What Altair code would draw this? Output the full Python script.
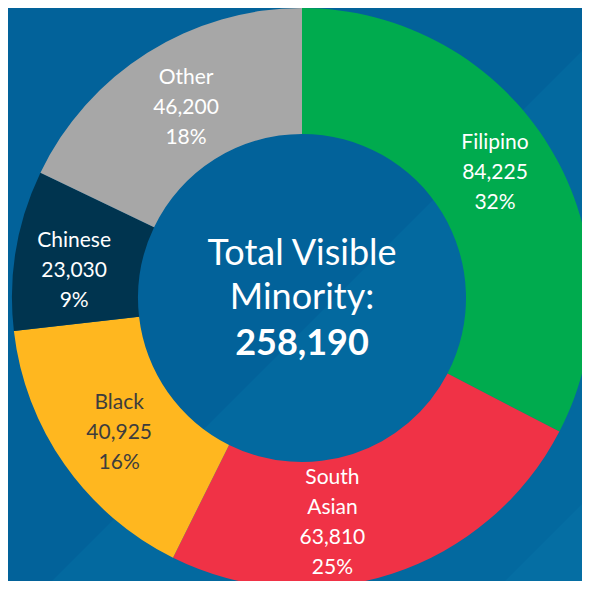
import altair as alt
import pandas as pd

groups = ["Filipino", "South Asian", "Black", "Chinese", "Other"]
label_names = ["Filipino", "South\nAsian", "Black", "Chinese", "Other"]
values = [84225, 63810, 40925, 23030, 46200]
pcts = ["32%", "25%", "16%", "9%", "18%"]
colors = ["#00ab4e", "#f03246", "#ffb71f", "#00344f", "#a7a7a7"]

total = sum(values)
df = pd.DataFrame({
    "group": groups,
    "value": values,
    "idx": list(range(len(groups))),
    "label": [f"{n}\n{v:,}\n{p}" for n, v, p in zip(label_names, values, pcts)],
})

W, H = 574, 573
CX, CY = 294, 290
FONT = "Lato"
BG = "#02629a"

# subtle diagonal background bands (decoration): wide rules along x+y = const
one = pd.DataFrame({"k": [0]})


def band(c, color, width=600):
    off = c + width / 2 * 1.4142
    return alt.Chart(one).mark_rule(strokeWidth=width, color=color, strokeCap="butt").encode(
        x=alt.value(-800), y=alt.value(off + 800),
        x2=alt.value(off + 800), y2=alt.value(-800),
    )


bands = [band(617, "#03699f"), band(1070, "#056ea3")]

base = alt.Chart(df).encode(
    theta=alt.Theta("value:Q", stack=True),
    order=alt.Order("idx:Q"),
)

arcs = base.mark_arc(outerRadius=290, innerRadius=164, stroke=None).encode(
    x=alt.value(CX), y=alt.value(CY),
    color=alt.Color("group:N", scale=alt.Scale(domain=groups, range=colors), legend=None),
)

# per-label nudges (pixels)
nudges = {
    "Filipino": (-1, -37),
    "South Asian": (-40, -36),
    "Black": (3, -25),
    "Chinese": (-4, -19),
    "Other": (5, -28),
}

label_layers = []
for g, (ddx, ddy) in nudges.items():
    label_layers.append(
        base.mark_text(
            radius=227, font=FONT, fontSize=21, lineBreak="\n", lineHeight=30,
            align="center", baseline="middle", dx=ddx, dy=ddy,
            color="#3d3d3d" if g == "Black" else "white",
        ).encode(
            x=alt.value(CX), y=alt.value(CY),
            text="label:N",
            opacity=alt.condition(alt.datum.group == g, alt.value(1), alt.value(0)),
        )
    )

center_df = pd.DataFrame({"t": ["Total Visible\nMinority:"], "n": [f"{total:,}"]})
center1 = alt.Chart(center_df).mark_text(
    font=FONT, fontSize=36, lineBreak="\n", lineHeight=44, color="white",
    align="center", baseline="middle",
).encode(x=alt.value(CX), y=alt.value(246), text="t:N")
center2 = alt.Chart(center_df).mark_text(
    font=FONT, fontSize=36, fontWeight="bold", color="white",
    align="center", baseline="middle",
).encode(x=alt.value(CX), y=alt.value(336), text="n:N")

chart = alt.layer(*bands, arcs, *label_layers, center1, center2).properties(
    width=W, height=H, autosize=alt.AutoSizeParams(type="none"),
    padding=0, background=BG,
).configure_view(stroke=None, clip=True)

chart.save("out.html", embed_options={"renderer": "svg", "actions": False})
